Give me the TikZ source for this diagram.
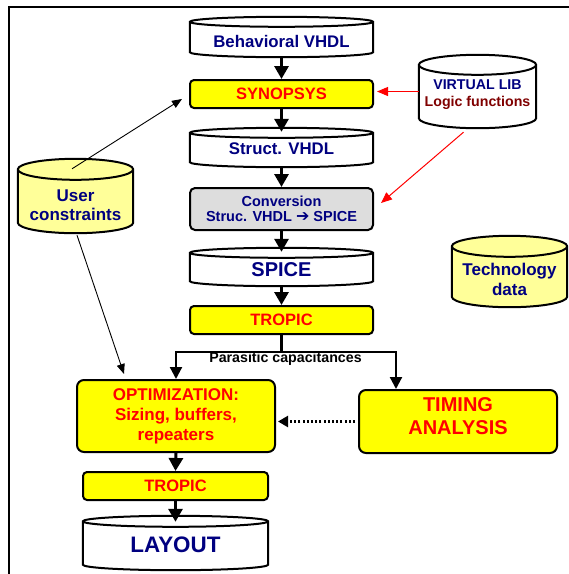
\documentclass[tikz,border=0pt]{standalone}
\usepackage{fontspec}
\setmainfont{Liberation Sans}
\newfontfamily\dingfont{DejaVu Sans}
\usetikzlibrary{arrows.meta,calc}

\definecolor{navytext}{RGB}{0,0,128}
\definecolor{redtext}{RGB}{255,0,0}
\definecolor{libred}{RGB}{128,0,0}
\definecolor{boxyellow}{RGB}{255,255,0}
\definecolor{paleyellow}{RGB}{255,255,153}
\definecolor{convgray}{RGB}{221,221,221}

% bold Liberation Sans at a given size / baseline skip
\newcommand\bfsize[2]{\fontsize{#1}{#2}\selectfont\bfseries}

% outline of a data store ("can") around an empty node: #1 node, #2 cap half-height, #3 fill
\newcommand\candraw[3]{%
  \draw[outline, fill=#3] let \p1=(#1.north west), \p2=(#1.south east), \n1={(\x2-\x1)/2} in
    (\x1,\y1-#2pt) -- (\x1,\y2+#2pt)
      arc[start angle=180, end angle=360, x radius=\n1, y radius=#2pt]
      -- (\x2,\y1-#2pt)
      arc[start angle=0, end angle=180, x radius=\n1, y radius=#2pt] -- cycle
    (\x1,\y1-#2pt) arc[start angle=180, end angle=360, x radius=\n1, y radius=#2pt];}

\tikzset{
  outline/.style={draw=black, line width=2pt},
  can/.style={inner sep=0pt, draw=none},
  lbl/.style={inner sep=0pt, align=center},
  stage/.style={outline, fill=boxyellow, rounded corners=4pt, minimum width=183pt,
    minimum height=28pt, inner sep=0pt, text=redtext, font=\bfsize{16.5}{20}},
  bigstage/.style={outline, fill=boxyellow, rounded corners=7pt, minimum width=198pt,
    inner sep=0pt, text=redtext, align=center},
  flow/.style={line width=3pt, -{Triangle[length=13pt,width=14pt]}},
  branch/.style={line width=2.2pt},
  branchtip/.style={branch, -{Triangle[length=12pt,width=12pt]}},
  redlink/.style={draw=red, line width=1pt, -{Triangle[length=11pt,width=9pt]}},
  thinlink/.style={line width=0.9pt, -{Triangle[length=10pt,width=8pt]}},
  dotlink/.style={line width=2.2pt, dash pattern=on 2pt off 2.2pt,
    -{Triangle[length=10pt,width=11pt]}},
}

\begin{document}
\begin{tikzpicture}[x=1pt,y=1pt]
\useasboundingbox (0,0) rectangle (569,-574);

% page frame (top and left edges)
\draw[line width=2pt] (569,-7) -- (9,-7) -- (9,-574);

% data stores
\node[can, minimum width=183pt, minimum height=40pt] (beh)   at (281.5,-37)   {};
\node[can, minimum width=183pt, minimum height=39pt] (st)    at (281.5,-147.5) {};
\node[can, minimum width=183pt, minimum height=38pt] (spice) at (281.5,-267)  {};
\node[can, minimum width=185pt, minimum height=54pt] (lay)   at (175.5,-543)  {};
\node[can, minimum width=117pt, minimum height=73pt] (vlib)  at (477.5,-91.5) {};
\node[can, minimum width=115pt, minimum height=74pt] (usr)   at (75.5,-196)   {};
\node[can, minimum width=115pt, minimum height=71pt] (tech)  at (509.5,-271.5) {};

\candraw{beh}{5}{white}
\candraw{st}{5}{white}
\candraw{spice}{5}{white}
\candraw{lay}{5.5}{white}
\candraw{vlib}{10}{white}
\candraw{usr}{10.5}{paleyellow}
\candraw{tech}{10.5}{paleyellow}

\node[lbl, text=navytext, font=\bfsize{16.8}{20}] (behT)   at (281.5,-41)  {Behavioral VHDL};
\node[lbl, text=navytext, font=\bfsize{16.8}{20}] (stT)    at (281.5,-149) {Struct. VHDL};
\node[lbl, text=navytext, font=\bfsize{20}{23}]   (spiceT) at (281.5,-270) {SPICE};
\node[lbl, text=navytext, font=\bfsize{22.4}{26}] (layT)   at (175.5,-545) {LAYOUT};
\node[lbl, font=\bfsize{14.2}{17}] (vlibT) at (477.5,-95)
  {\textcolor{navytext}{VIRTUAL LIB}\\\textcolor{libred}{Logic functions}};
\node[lbl, text=navytext, font=\bfsize{17}{19.5}] (usrT)  at (75.5,-205)  {User\\constraints};
\node[lbl, text=navytext, font=\bfsize{17}{20}]   (techT) at (509.5,-279) {Technology\\data};

% process steps
\node[stage] (syn) at (281.5,-94) {SYNOPSYS};
\node[stage, fill=convgray, text=navytext, minimum height=42pt, align=center,
      rounded corners=5pt, font=\bfsize{14.5}{15.5}] (conv) at (281.5,-209)
  {Conversion\\Struc. VHDL {\dingfont\bfseries\fontsize{16}{16}\selectfont ➔} SPICE};
\node[stage] (trop1) at (281.5,-320) {TROPIC};
\node[bigstage, minimum height=72pt, font=\bfsize{17}{20}] (opt) at (176,-416)
  {OPTIMIZATION:\\Sizing, buffers,\\repeaters};
\node[bigstage, minimum height=63pt] (tim) at (458,-421.5) {};
\node[lbl, text=redtext, font=\bfsize{20}{23}] (timT) at (458,-416) {TIMING\\ANALYSIS};
\node[stage, minimum width=185pt] (trop2) at (175.5,-486) {TROPIC};

% main flow
\draw[flow] (beh.south) -- (syn.north);
\draw[flow] (syn.south) -- ([yshift=-4pt]st.north);
\draw[flow] (st.south) -- (conv.north);
\draw[flow] (conv.south) -- ([yshift=-4pt]spice.north);
\draw[flow] (spice.south) -- (trop1.north);

% parasitic capacitances split
\coordinate (split) at ($(trop1.south)+(0,-17)$);
\coordinate (tapR) at (396,-351);
\draw[branch] (trop1.south) -- (split);
\draw[branchtip] (split) -| (opt.north);
\draw[branchtip] (split) -| (tapR |- tim.north);
\node[lbl, font=\bfsize{14.2}{17}] (para) at (285.5,-359) {Parasitic capacitances};

% library and constraint inputs
\draw[redlink, shorten >=3pt] (vlib.west) -- (vlib.west -| syn.east);
\draw[redlink] ([shift={(-14pt,-4pt)}]vlib.south) -- ([shift={(7pt,6pt)}]conv.east);
\draw[thinlink] ([shift={(-3.5pt,-10pt)}]usr.north) -- ([shift={(-7pt,-5pt)}]syn.west);
\draw[thinlink] ([shift={(1.5pt,-2pt)}]usr.south) -- ([shift={(48pt,5pt)}]opt.north west);

% timing feedback and back end
\draw[dotlink, shorten <=3pt, shorten >=2pt] (tim.west) -- (tim.west -| opt.east);
\draw[flow] (opt.south) -- (trop2.north);
\draw[flow] (trop2.south) -- ([yshift=-6pt]lay.north);
\end{tikzpicture}
\end{document}
